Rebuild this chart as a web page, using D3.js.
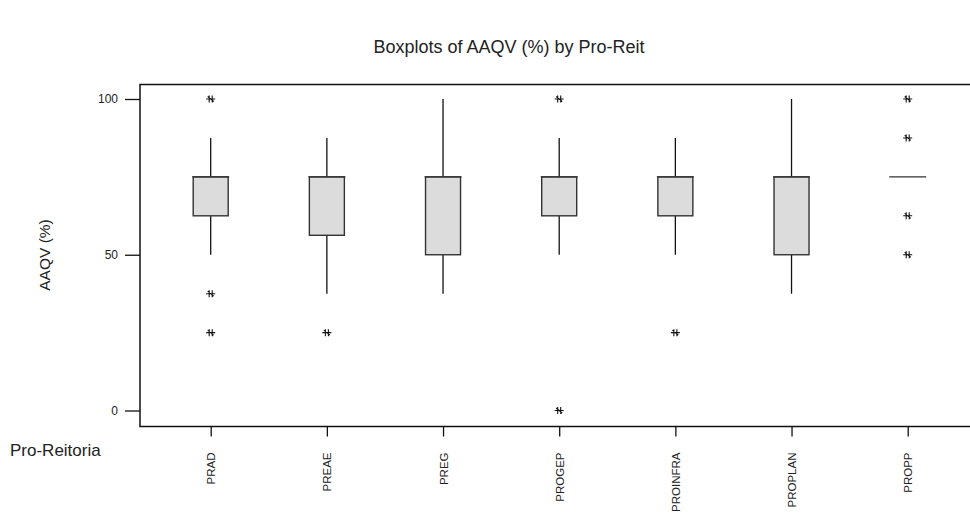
<!DOCTYPE html>
<html><head><meta charset="utf-8">
<script src="https://cdn.jsdelivr.net/npm/d3@7"></script>
<style>body{margin:0;background:#fff}svg{display:block}text{font-family:"Liberation Sans",Arial,sans-serif;fill:#222}</style>
</head><body><svg id="c" width="970" height="518"></svg>
<script>
const categories = ["PRAD","PREAE","PREG","PROGEP","PROINFRA","PROPLAN","PROPP"];
const q1 =        [62.5, 56.25, 50, 62.5, 62.5, 50, 75];
const median =    [75,   75,    75, 75,   75,   75, 75];
const q3 =        [75,   75,    75, 75,   75,   75, 75];
const whiskLow =  [50,   37.5,  37.5, 50, 50,  37.5, 75];
const whiskHigh = [87.5, 87.5,  100, 87.5, 87.5, 100, 75];
const outliers =  [[100,37.5,25],[25],[],[100,0],[25],[],[100,87.5,62.5,50]];
const yTicks = [0,50,100];

const svg = d3.select("#c");
const L=140, T=84.5, B=426.5, R=980;
const x = d3.scalePoint().domain(categories).range([210.7, 907.7]);
const y = d3.scaleLinear().domain([0,100]).range([410.5, 99]);
const bw = 35;

svg.append("text").attr("x",509).attr("y",53).attr("text-anchor","middle")
  .style("font-size","18px").text("Boxplots of AAQV (%) by Pro-Reit");

// frame
svg.append("rect").attr("x",L).attr("y",T).attr("width",R-L).attr("height",B-T)
  .attr("fill","none").attr("stroke","#111").attr("stroke-width",1.5);

// y axis
const ya = svg.append("g").attr("transform",`translate(${L},0)`)
  .call(d3.axisLeft(y).tickValues(yTicks).tickSize(15).tickPadding(7).tickFormat(d3.format("d")));
ya.select(".domain").remove();
ya.selectAll("line").attr("stroke","#111").attr("stroke-width",1.3);
ya.selectAll("text").style("font-size","12px").style("font-family","Liberation Sans, Arial").style("fill","#222");

svg.append("text").attr("transform","translate(50,255) rotate(-90)").attr("text-anchor","middle")
  .style("font-size","15.5px").text("AAQV (%)");

// x axis
const xa = svg.append("g").attr("transform",`translate(0,${B})`)
  .call(d3.axisBottom(x).tickSize(10).tickSizeOuter(0));
xa.select(".domain").remove();
xa.selectAll("line").attr("stroke","#111").attr("stroke-width",1.3);
xa.selectAll("text").style("font-size","11.5px").style("font-family","Liberation Sans, Arial").style("fill","#222")
  .attr("text-anchor","end").attr("dy",0).attr("y",0)
  .attr("transform","translate(4,26) rotate(-90)");

svg.append("text").attr("x",10).attr("y",456).style("font-size","17px").text("Pro-Reitoria");

// boxes
const g = svg.append("g");
categories.forEach((c,i)=>{
  const cx = x(c);
  const gi = g.append("g");
  if (whiskHigh[i] > q3[i]) gi.append("line").attr("x1",cx).attr("x2",cx).attr("y1",y(q3[i])).attr("y2",y(whiskHigh[i])).attr("stroke","#111").attr("stroke-width",1.3);
  if (whiskLow[i] < q1[i]) gi.append("line").attr("x1",cx).attr("x2",cx).attr("y1",y(q1[i])).attr("y2",y(whiskLow[i])).attr("stroke","#111").attr("stroke-width",1.3);
  if (q3[i] > q1[i]) gi.append("rect").attr("x",cx-bw/2).attr("y",y(q3[i])).attr("width",bw).attr("height",y(q1[i])-y(q3[i]))
    .attr("fill","#dcdcdc").attr("stroke","#333").attr("stroke-width",1.4);
  gi.append("line").attr("x1",cx-bw/2-1).attr("x2",cx+bw/2+1).attr("y1",y(median[i])).attr("y2",y(median[i])).attr("stroke","#333").attr("stroke-width",1.4);
  outliers[i].forEach(v=>{
    gi.append("path").attr("transform",`translate(${cx},${y(v)})`)
      .attr("d","M-4.5,0H4.5M-1.5,-3.5V3.5M1.5,-3.5V3.5M-3,-2.5L3,2.5")
      .attr("fill","none").attr("stroke","#111").attr("stroke-width",1.1);
  });
});
</script></body></html>
